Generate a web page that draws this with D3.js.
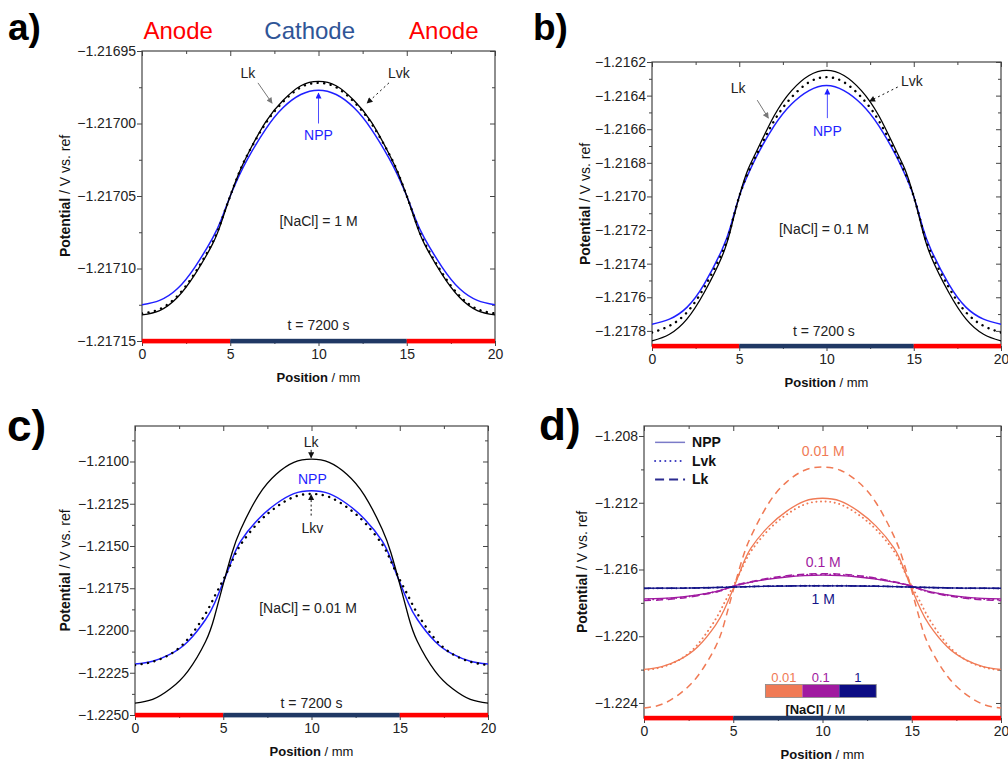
<!DOCTYPE html>
<html>
<head>
<meta charset="utf-8">
<script src="https://cdn.jsdelivr.net/npm/d3@7"></script>
<style>
  body { margin: 0; background: #fff; }
  svg { font-family: "Liberation Sans", Arial, sans-serif; }
</style>
</head>
<body>
<svg id="fig" width="1008" height="761"></svg>
<script>
// positions along the cell (mm)
const positions = [0, 1, 2, 3, 4, 4.5, 5, 5.5, 6, 7, 8, 9, 10, 11, 12, 13, 14, 14.5, 15, 15.5, 16, 17, 18, 19, 20];

// [NaCl] = 1 M
const npp1 = [-1.217125, -1.217122, -1.217114, -1.217099, -1.217079, -1.217066, -1.217050, -1.217036, -1.217024, -1.217004, -1.216989, -1.216980, -1.216977,
  -1.216980, -1.216989, -1.217004, -1.217024, -1.217036, -1.217050, -1.217066, -1.217079, -1.217099, -1.217114, -1.217122, -1.217125];
const lvk1 = [-1.217131, -1.217128, -1.217119, -1.217103, -1.217082, -1.217067, -1.217050, -1.217034, -1.217021, -1.217000, -1.216985, -1.216975, -1.216972,
  -1.216975, -1.216985, -1.217000, -1.217021, -1.217034, -1.217050, -1.217067, -1.217082, -1.217103, -1.217119, -1.217128, -1.217131];
const lk1 = [-1.217132, -1.217129, -1.217120, -1.217104, -1.217083, -1.217068, -1.217050, -1.217034, -1.217021, -1.216999, -1.216984, -1.216974, -1.216971,
  -1.216974, -1.216984, -1.216999, -1.217021, -1.217034, -1.217050, -1.217068, -1.217083, -1.217104, -1.217120, -1.217129, -1.217132];

// [NaCl] = 0.1 M
const npp01 = [-1.21776, -1.21773, -1.21766, -1.21752, -1.21732, -1.21718, -1.21700, -1.21687, -1.21676, -1.21658, -1.21645, -1.21637, -1.21634,
  -1.21637, -1.21645, -1.21658, -1.21676, -1.21687, -1.21700, -1.21718, -1.21732, -1.21752, -1.21766, -1.21773, -1.21776];
const lvk01 = [-1.21781, -1.21777, -1.21769, -1.21754, -1.21734, -1.21719, -1.21700, -1.21686, -1.21675, -1.21655, -1.21641, -1.21632, -1.21629,
  -1.21632, -1.21641, -1.21655, -1.21675, -1.21686, -1.21700, -1.21719, -1.21734, -1.21754, -1.21769, -1.21777, -1.21781];
const lk01 = [-1.21786, -1.21782, -1.21773, -1.21757, -1.21736, -1.21720, -1.21700, -1.21684, -1.21673, -1.21652, -1.21637, -1.21628, -1.21625,
  -1.21628, -1.21637, -1.21652, -1.21673, -1.21684, -1.21700, -1.21720, -1.21736, -1.21757, -1.21773, -1.21782, -1.21786];

// [NaCl] = 0.01 M
const npp001 = [-1.22199, -1.22182, -1.22140, -1.22065, -1.21935, -1.21840, -1.21715, -1.21580, -1.21470, -1.21340, -1.21250, -1.21190, -1.21173,
  -1.21190, -1.21250, -1.21340, -1.21470, -1.21580, -1.21715, -1.21840, -1.21935, -1.22065, -1.22140, -1.22182, -1.22199];
const lvk001 = [-1.22205, -1.22185, -1.22140, -1.22050, -1.21900, -1.21800, -1.21700, -1.21590, -1.21490, -1.21360, -1.21270, -1.21210, -1.21192,
  -1.21210, -1.21270, -1.21360, -1.21490, -1.21590, -1.21700, -1.21800, -1.21900, -1.22050, -1.22140, -1.22185, -1.22205];
const lk001 = [-1.22430, -1.22408, -1.22345, -1.22240, -1.22065, -1.21920, -1.21725, -1.21540, -1.21400, -1.21200, -1.21075, -1.21005, -1.20986,
  -1.21005, -1.21075, -1.21200, -1.21400, -1.21540, -1.21725, -1.21920, -1.22065, -1.22240, -1.22345, -1.22408, -1.22430];

// tick labels
const xTicks = [0, 5, 10, 15, 20];
const xMinor = [2.5, 7.5, 12.5, 17.5];
const yTicksA = [-1.21715, -1.21710, -1.21705, -1.21700, -1.21695];
const yMinorA = [-1.217125, -1.217075, -1.217025, -1.216975];
const yTicksB = [-1.2178, -1.2176, -1.2174, -1.2172, -1.2170, -1.2168, -1.2166, -1.2164, -1.2162];
const yMinorB = [-1.2177, -1.2175, -1.2173, -1.2171, -1.2169, -1.2167, -1.2165, -1.2163];
const yTicksC = [-1.2250, -1.2225, -1.2200, -1.2175, -1.2150, -1.2125, -1.2100];
const yMinorC = [-1.22375, -1.22125, -1.21875, -1.21625, -1.21375, -1.21125, -1.20875];
const yTicksD = [-1.224, -1.220, -1.216, -1.212, -1.208];
const yMinorD = [-1.222, -1.218, -1.214, -1.210];

// electrode zones
const zones = ["Anode", "Cathode", "Anode"];
const zoneFrom = [0, 5, 15];
const zoneTo = [5, 15, 20];
const zoneLabelAt = [2.05, 9.5, 17.1];

// concentration key
const concNames = ["0.01", "0.1", "1"];
const concLabels = ["0.01 M", "0.1 M", "1 M"];

const BLUE = "#1f1fff";
const zoneColor = { Anode: "#ff0000", Cathode: "#203864" };
const headColor = { Anode: "#ff0000", Cathode: "#2f5597" };
const concColor = ["#f07a55", "#a01aa0", "#141488"];

const svg = d3.select("#fig");
const defs = svg.append("defs");
function marker(id, color) {
  defs.append("marker")
    .attr("id", id).attr("viewBox", "0 0 10 10")
    .attr("refX", 9).attr("refY", 5)
    .attr("markerWidth", 7).attr("markerHeight", 6)
    .attr("markerUnits", "userSpaceOnUse")
    .attr("orient", "auto")
    .append("path").attr("d", "M0,0L10,5L0,10z").attr("fill", color);
}
marker("ar-gray", "#777");
marker("ar-black", "#111");
marker("ar-blue", BLUE);

const panels = [
  { letter: "a)", lx: 8, ly: 40, lsize: 37, box: [142, 51, 495, 341], ydom: [-1.21715, -1.21695],
    ticks: yTicksA, minor: yMinorA, fmt: ".5f", titleDx: 77,
    series: [npp1, lk1, lvk1],
    texts: [
      { t: "Lk", x: 6.0, v: -1.216965 }, { t: "Lvk", x: 14.56, v: -1.216965 },
      { t: "NPP", x: 10, v: -1.217008, c: BLUE },
      { t: "[NaCl] = 1 M", x: 10, v: -1.217067 }, { t: "t = 7200 s", x: 10, v: -1.217139 }],
    arrows: [
      { x1: 6.57, v1: -1.216972, x2: 7.37, v2: -1.216986, m: "gray" },
      { x1: 13.99, v1: -1.216972, x2: 12.75, v2: -1.216986, m: "black", dash: "2 3" },
      { x1: 10, v1: -1.2170, x2: 10, v2: -1.216979, m: "blue" }] },
  { letter: "b)", lx: 533, ly: 40, lsize: 37, box: [652, 62, 1001, 346], ydom: [-1.21789, -1.2162],
    ticks: yTicksB, minor: yMinorB, fmt: ".4f", titleDx: 67,
    series: [npp01, lk01, lvk01],
    texts: [
      { t: "Lk", x: 4.94, v: -1.216355 }, { t: "Lvk", x: 14.89, v: -1.216313 },
      { t: "NPP", x: 10.05, v: -1.216612, c: BLUE },
      { t: "[NaCl] = 0.1 M", x: 9.85, v: -1.217191 }, { t: "t = 7200 s", x: 9.85, v: -1.2178 }],
    arrows: [
      { x1: 6.03, v1: -1.216427, x2: 6.67, v2: -1.216534, m: "gray" },
      { x1: 14.08, v1: -1.216349, x2: 12.47, v2: -1.216433, m: "black", dash: "2 3" },
      { x1: 10.05, v1: -1.216534, x2: 10.05, v2: -1.216361, m: "blue" }] },
  { letter: "c)", lx: 7, ly: 441, lsize: 44, box: [135, 426, 488, 715], ydom: [-1.2250, -1.2079],
    ticks: yTicksC, minor: yMinorC, fmt: ".4f", titleDx: 70,
    series: [npp001, lk001, lvk001],
    texts: [
      { t: "Lk", x: 9.98, v: -1.208838 }, { t: "NPP", x: 10.05, v: -1.21102, c: BLUE },
      { t: "Lkv", x: 10.05, v: -1.21391 },
      { t: "[NaCl] = 0.01 M", x: 9.8, v: -1.21869 }, { t: "t = 7200 s", x: 10, v: -1.22429 }],
    arrows: [
      { x1: 9.98, v1: -1.20931, x2: 9.98, v2: -1.20978, m: "black" },
      { x1: 9.98, v1: -1.2132, x2: 9.98, v2: -1.21196, m: "black", dash: "2 2.5" }] },
  { letter: "d)", lx: 539, ly: 440, lsize: 44, box: [644, 426, 1001, 718], ydom: [-1.2249, -1.2074],
    ticks: yTicksD, minor: yMinorD, fmt: ".3f", titleDx: 62, multi: true }
];

const curveLine = (x, y) => d3.line()
  .x((d, i) => x(positions[i]))
  .y(d => y(d))
  .curve(d3.curveNatural);

panels.forEach((p, pi) => {
  const [L, T, R, B] = p.box;
  const x = d3.scaleLinear().domain([0, 20]).range([L, R]);
  const y = d3.scaleLinear().domain(p.ydom).range([B, T]);
  const g = svg.append("g");

  g.append("text").attr("x", p.lx).attr("y", p.ly)
    .attr("font-size", p.lsize).attr("font-weight", "bold").attr("fill", "#000")
    .text(p.letter);

  // clip
  g.append("clipPath").attr("id", "clip" + pi)
    .append("rect").attr("x", L).attr("y", T).attr("width", R - L).attr("height", B - T);

  // axes
  const styleAxis = sel => {
    sel.select(".domain").remove();
    sel.selectAll("line").attr("stroke", "#444");
    sel.selectAll("text").attr("fill", "#222").attr("font-size", 14)
      .attr("font-family", "Liberation Sans, Arial, sans-serif");
  };
  const fmt = d3.format(p.fmt);
  g.append("g").attr("transform", `translate(${L},0)`)
    .call(d3.axisLeft(y).tickValues(p.ticks).tickFormat(fmt).tickSize(5).tickPadding(1)).call(styleAxis);
  g.append("g").attr("transform", `translate(${L},0)`)
    .call(d3.axisLeft(y).tickValues(p.minor).tickFormat("").tickSize(3)).call(styleAxis);
  g.append("g").attr("transform", `translate(${R},0)`)
    .call(d3.axisRight(y).tickValues(p.ticks).tickFormat("").tickSize(-5)).call(styleAxis);
  g.append("g").attr("transform", `translate(${R},0)`)
    .call(d3.axisRight(y).tickValues(p.minor).tickFormat("").tickSize(-3)).call(styleAxis);
  g.append("g").attr("transform", `translate(0,${B})`)
    .call(d3.axisBottom(x).tickValues(xTicks).tickFormat(d3.format("d")).tickSize(5).tickPadding(3)).call(styleAxis);
  g.append("g").attr("transform", `translate(0,${B})`)
    .call(d3.axisBottom(x).tickValues(xMinor).tickFormat("").tickSize(3)).call(styleAxis);
  g.append("g").attr("transform", `translate(0,${T})`)
    .call(d3.axisTop(x).tickValues(xTicks).tickFormat("").tickSize(-5)).call(styleAxis);
  g.append("g").attr("transform", `translate(0,${T})`)
    .call(d3.axisTop(x).tickValues(xMinor).tickFormat("").tickSize(-3)).call(styleAxis);

  g.append("rect").attr("x", L).attr("y", T).attr("width", R - L).attr("height", B - T)
    .attr("fill", "none").attr("stroke", "#444").attr("stroke-width", 1.2);

  // axis titles
  const xt = g.append("text").attr("x", (L + R) / 2).attr("y", B + 41)
    .attr("text-anchor", "middle").attr("font-size", 13).attr("fill", "#111");
  xt.append("tspan").attr("font-weight", "bold").text("Position");
  xt.append("tspan").text(" / mm");
  const yt = g.append("text")
    .attr("transform", `translate(${L - p.titleDx},${(T + B) / 2}) rotate(-90)`)
    .attr("text-anchor", "middle").attr("dominant-baseline", "central")
    .attr("font-size", 14).attr("fill", "#111");
  yt.append("tspan").attr("font-weight", "bold").text("Potential");
  yt.append("tspan").text(" / V vs. ref");

  const plot = g.append("g").attr("clip-path", `url(#clip${pi})`);
  const line = curveLine(x, y);

  if (!p.multi) {
    const [npp, lk, lvk] = p.series;
    plot.append("path").attr("d", line(npp)).attr("fill", "none")
      .attr("stroke", BLUE).attr("stroke-width", 1.5);
    plot.append("path").attr("d", line(lk)).attr("fill", "none")
      .attr("stroke", "#000").attr("stroke-width", 1.3);
    plot.append("path").attr("d", line(lvk)).attr("fill", "none")
      .attr("stroke", "#000").attr("stroke-width", 2.4)
      .attr("stroke-dasharray", "0.1 6.5").attr("stroke-linecap", "round");

    p.texts.forEach(t => {
      g.append("text").attr("x", x(t.x)).attr("y", y(t.v))
        .attr("text-anchor", "middle").attr("dominant-baseline", "central")
        .attr("font-size", 14).attr("fill", t.c || "#222").text(t.t);
    });
    p.arrows.forEach(a => {
      const col = a.m === "blue" ? BLUE : a.m === "gray" ? "#777" : "#111";
      g.append("line").attr("x1", x(a.x1)).attr("y1", y(a.v1))
        .attr("x2", x(a.x2)).attr("y2", y(a.v2))
        .attr("stroke", col).attr("stroke-width", a.m === "blue" ? 0.8 : 1)
        .attr("stroke-dasharray", a.dash || null)
        .attr("marker-end", `url(#ar-${a.m})`);
    });
  } else {
    const sets = [[npp001, lvk001, lk001], [npp01, lvk01, lk01], [npp1, lvk1, lk1]];
    sets.forEach((s, k) => {
      const col = concColor[k];
      plot.append("path").attr("d", line(s[0])).attr("fill", "none")
        .attr("stroke", col).attr("stroke-width", 1.3);
      plot.append("path").attr("d", line(s[1])).attr("fill", "none")
        .attr("stroke", col).attr("stroke-width", 1.9)
        .attr("stroke-dasharray", "0.1 4.5").attr("stroke-linecap", "round");
      plot.append("path").attr("d", line(s[2])).attr("fill", "none")
        .attr("stroke", col).attr("stroke-width", 1.5)
        .attr("stroke-dasharray", "7 5");
    });
    // curve labels
    const labelV = [-1.20892, -1.21558, -1.21774];
    concLabels.forEach((t, k) => {
      g.append("text").attr("x", x(10.04)).attr("y", y(labelV[k]))
        .attr("text-anchor", "middle").attr("dominant-baseline", "central")
        .attr("font-size", 14).attr("fill", concColor[k]).text(t);
    });
    // legend
    const legNames = ["NPP", "Lvk", "Lk"];
    const legV = [-1.20838, -1.2095, -1.2106];
    const legStyle = [
      { c: "#7b7bc8", w: 1.5, d: null, cap: "butt" },
      { c: "#3a3ac0", w: 2, d: "0.1 5", cap: "round" },
      { c: "#2b2b90", w: 2, d: "9 5", cap: "butt" }];
    legNames.forEach((n, k) => {
      g.append("line").attr("x1", x(0.62)).attr("x2", x(2.3))
        .attr("y1", y(legV[k])).attr("y2", y(legV[k]))
        .attr("stroke", legStyle[k].c).attr("stroke-width", legStyle[k].w)
        .attr("stroke-dasharray", legStyle[k].d).attr("stroke-linecap", legStyle[k].cap);
      g.append("text").attr("x", x(2.69)).attr("y", y(legV[k]))
        .attr("dominant-baseline", "central").attr("font-size", 14)
        .attr("font-weight", "bold").attr("fill", "#111").text(n);
    });
    // concentration key bar
    const keyX = [6.8, 8.87, 10.94, 13.01];
    concNames.forEach((n, k) => {
      g.append("rect").attr("x", x(keyX[k])).attr("y", y(-1.22289))
        .attr("width", x(keyX[k + 1]) - x(keyX[k])).attr("height", y(-1.22367) - y(-1.22289))
        .attr("fill", concColor[k] === "#141488" ? "#0c0c84" : concColor[k]);
      g.append("text").attr("x", (x(keyX[k]) + x(keyX[k + 1])) / 2).attr("y", y(-1.22247))
        .attr("text-anchor", "middle").attr("dominant-baseline", "central")
        .attr("font-size", 13).attr("fill", concColor[k]).text(n);
    });
    g.append("rect").attr("x", x(keyX[0])).attr("y", y(-1.22289))
      .attr("width", x(keyX[3]) - x(keyX[0])).attr("height", y(-1.22367) - y(-1.22289))
      .attr("fill", "none").attr("stroke", "#888").attr("stroke-width", 0.8);
    const kt = g.append("text").attr("x", x(9.6)).attr("y", y(-1.22439))
      .attr("text-anchor", "middle").attr("dominant-baseline", "central")
      .attr("font-size", 13).attr("fill", "#111");
    kt.append("tspan").attr("font-weight", "bold").text("[NaCl]");
    kt.append("tspan").text(" / M");
  }

  // electrode strip along the bottom axis
  zones.forEach((z, k) => {
    g.append("rect").attr("x", x(zoneFrom[k])).attr("y", B - 2.2)
      .attr("width", x(zoneTo[k]) - x(zoneFrom[k])).attr("height", 4.6)
      .attr("fill", zoneColor[z]);
  });

  if (pi === 0) {
    zones.forEach((z, k) => {
      g.append("text").attr("x", x(zoneLabelAt[k])).attr("y", 39)
        .attr("text-anchor", "middle").attr("font-size", 24)
        .attr("fill", headColor[z]).text(z);
    });
  }
});
</script>
</body>
</html>
